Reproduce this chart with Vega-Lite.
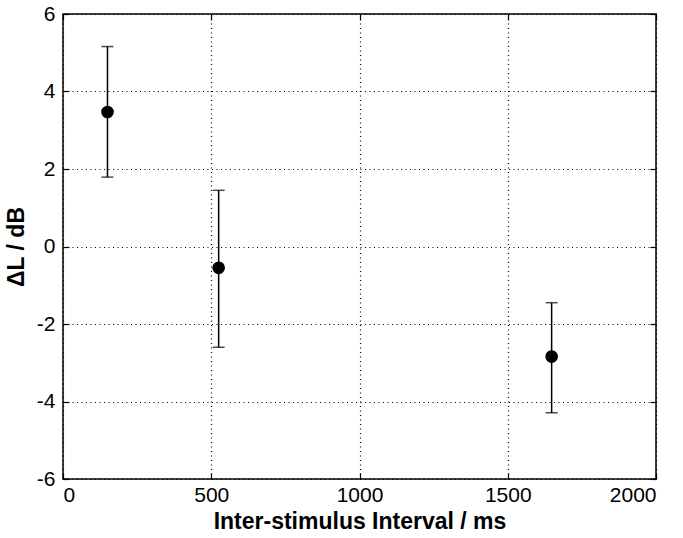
{
  "$schema": "https://vega.github.io/schema/vega-lite/v6.json",
  "width": 593,
  "height": 465,
  "autosize": "none",
  "padding": {"left": 63, "top": 14, "right": 27, "bottom": 59},
  "background": "white",
  "config": {
    "view": {"stroke": "black", "strokeWidth": 1.5},
    "font": "Liberation Sans",
    "axis": {
      "labelFont": "Liberation Sans",
      "titleFont": "Liberation Sans",
      "labelFontSize": 21,
      "titleFontSize": 23,
      "titleFontWeight": "bold",
      "labelColor": "black",
      "titleColor": "black",
      "domain": false,
      "tickColor": "black",
      "tickSize": -6,
      "tickWidth": 1.2,
      "gridColor": "black",
      "gridDash": [1, 3.5],
      "gridWidth": 1.2,
      "gridOpacity": 1,
      "labelExpr": "replace(datum.label, '−', '-')"
    }
  },
  "data": {
    "values": [
      {"isi": 150, "mean": 3.47, "lo": 1.79, "hi": 5.16},
      {"isi": 525, "mean": -0.55, "lo": -2.6, "hi": 1.45},
      {"isi": 1648, "mean": -2.84, "lo": -4.29, "hi": -1.45}
    ]
  },
  "resolve": {"axis": {"x": "independent", "y": "independent"}},
  "layer": [
    {
      "mark": {"type": "rule", "color": "black", "strokeWidth": 1.5},
      "encoding": {
        "x": {
          "field": "isi",
          "type": "quantitative",
          "scale": {"domain": [0, 2000], "nice": false},
          "axis": {"values": [0, 500, 1000, 1500, 2000], "grid": true, "title": "Inter-stimulus Interval / ms", "labelPadding": 11, "titlePadding": 5, "format": "d"}
        },
        "y": {
          "field": "lo",
          "type": "quantitative",
          "scale": {"domain": [-6, 6], "nice": false},
          "axis": {"values": [-6, -4, -2, 0, 2, 4, 6], "grid": true, "title": "ΔL / dB", "labelPadding": 14, "titlePadding": 8, "format": "d"}
        },
        "y2": {"field": "hi"}
      }
    },
    {
      "mark": {"type": "tick", "orient": "horizontal", "color": "black", "size": 12, "thickness": 1.5},
      "encoding": {
        "x": {"field": "isi", "type": "quantitative", "axis": null},
        "y": {"field": "lo", "type": "quantitative", "axis": null}
      }
    },
    {
      "mark": {"type": "tick", "orient": "horizontal", "color": "black", "size": 12, "thickness": 1.5},
      "encoding": {
        "x": {"field": "isi", "type": "quantitative", "axis": null},
        "y": {"field": "hi", "type": "quantitative", "axis": null}
      }
    },
    {
      "mark": {"type": "point", "filled": true, "shape": "circle", "color": "black", "opacity": 1, "size": 160},
      "encoding": {
        "x": {"field": "isi", "type": "quantitative", "axis": {"orient": "top", "values": [0, 500, 1000, 1500, 2000], "labels": false, "grid": false, "title": null}},
        "y": {"field": "mean", "type": "quantitative", "axis": {"orient": "right", "values": [-6, -4, -2, 0, 2, 4, 6], "labels": false, "grid": false, "title": null}}
      }
    }
  ]
}
